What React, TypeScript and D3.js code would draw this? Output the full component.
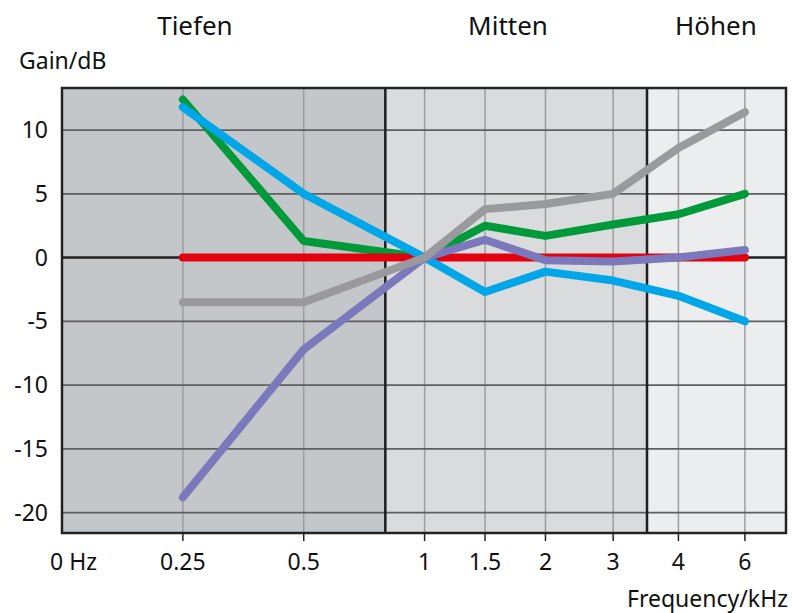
import React from "react";
import * as d3 from "d3";

const categories = ["0 Hz", "0.25", "0.5", "1", "1.5", "2", "3", "4", "6"];
// axis position of each category (in "slots")
const catPos = [0, 1, 2, 3, 3.5, 4, 4.56, 5.1, 5.65];
const yTicks = [10, 5, 0, -5, -10, -15, -20];

const red = [0, 0, 0, 0, 0, 0, 0, 0];
const green = [12.4, 1.3, 0, 2.5, 1.7, 2.6, 3.4, 5.0];
const blue = [11.8, 5.0, 0, -2.7, -1.1, -1.8, -3.0, -5.0];
const purple = [-18.8, -7.2, 0, 1.4, -0.2, -0.3, 0, 0.6];
const gray = [-3.5, -3.5, 0, 3.8, 4.2, 5.0, 8.6, 11.4];

const series = [
  { name: "green", values: green, color: "#009a3a" },
  { name: "red", values: red, color: "#e3000f" },
  { name: "blue", values: blue, color: "#00a6e8" },
  { name: "purple", values: purple, color: "#7b79bb" },
  { name: "gray", values: gray, color: "#9a999e" },
];

const bands = [
  { label: "Tiefen", from: 0, to: 2.675, fill: "#c4c7ca", labelX: 1.1 },
  { label: "Mitten", from: 2.675, to: 4.84, fill: "#dadbdd", labelX: 3.69 },
  { label: "Höhen", from: 4.84, to: 5.99, fill: "#ecedef", labelX: 5.41 },
];

const W = 797, H = 613;
const left = 62, right = 786, top = 88, bottom = 533;

export default function App() {
  const x = d3.scaleLinear().domain([0, 5.99]).range([left, right]);
  const y = d3.scaleLinear().domain([13.3, -21.6]).range([top, bottom]);
  const font = "'Noto Sans', 'Open Sans', sans-serif";
  const line = d3
    .line<number>()
    .x((_, i) => x(catPos[i + 1]))
    .y((d) => y(d));

  return (
    <svg width={W} height={H} style={{ position: "absolute", left: 0, top: 0 }} fontFamily={font}>
      <rect x={0} y={0} width={W} height={H} fill="#fff" />
      {bands.map((b) => (
        <rect key={b.label} x={x(b.from)} y={top} width={x(b.to) - x(b.from)} height={bottom - top} fill={b.fill} />
      ))}
      {bands.map((b) => (
        <text key={"t" + b.label} x={x(b.labelX)} y={35} fontSize={26} textAnchor="middle" fill="#111">
          {b.label}
        </text>
      ))}
      {/* vertical grid */}
      {catPos.slice(1).map((p, i) => (
        <line key={"vg" + i} x1={x(p)} x2={x(p)} y1={top} y2={bottom} stroke="#9d9d9f" strokeWidth={1.5} />
      ))}
      {/* horizontal grid */}
      {yTicks.map((t) => (
        <line
          key={"hg" + t}
          x1={left}
          x2={right}
          y1={y(t)}
          y2={y(t)}
          stroke={t === 0 ? "#1f1f1f" : "#5f5f61"}
          strokeWidth={t === 0 ? 2.5 : 1.8}
        />
      ))}
      {/* band separators */}
      {bands.slice(1).map((b) => (
        <line key={"sep" + b.label} x1={x(b.from)} x2={x(b.from)} y1={top} y2={bottom} stroke="#1f1f1f" strokeWidth={2.5} />
      ))}
      {/* frame */}
      <rect x={left} y={top} width={right - left} height={bottom - top} fill="none" stroke="#222" strokeWidth={2.5} />
      {/* series */}
      {series.map((s) => (
        <path
          key={s.name}
          d={line(s.values) || ""}
          fill="none"
          stroke={s.color}
          strokeWidth={8}
          strokeLinecap="round"
          strokeLinejoin="round"
        />
      ))}
      {/* y tick labels */}
      {yTicks.map((t) => (
        <text key={"yl" + t} x={48} y={y(t) + 8} fontSize={23} textAnchor="end" fill="#111">
          {t}
        </text>
      ))}
      {/* x ticks */}
      {catPos.slice(1).map((p, i) => (
        <line key={"xt" + i} x1={x(p)} x2={x(p)} y1={bottom} y2={bottom + 8} stroke="#222" strokeWidth={1.5} />
      ))}
      {categories.map((c, i) =>
        i === 0 ? (
          <text key={"xl" + i} x={x(catPos[i]) - 12} y={570} fontSize={23} textAnchor="start" fill="#111">
            {c}
          </text>
        ) : (
          <text key={"xl" + i} x={x(catPos[i])} y={570} fontSize={23} textAnchor="middle" fill="#111">
            {c}
          </text>
        )
      )}
      <text x={19} y={69} fontSize={23} fill="#111">
        Gain/dB
      </text>
      <text x={788} y={607} fontSize={23} textAnchor="end" fill="#111">
        Frequency/kHz
      </text>
    </svg>
  );
}
